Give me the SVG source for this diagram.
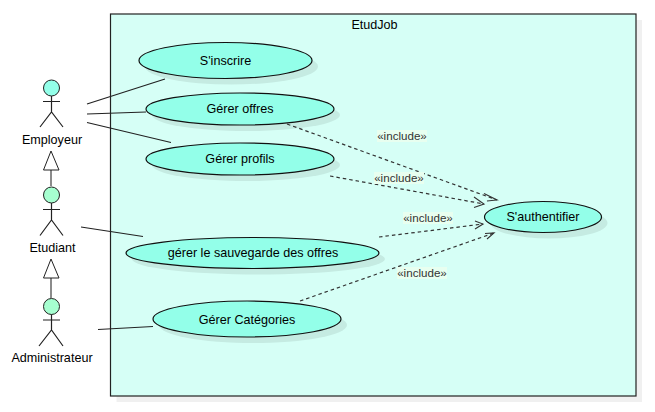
<svg xmlns="http://www.w3.org/2000/svg" width="655" height="412" viewBox="0 0 655 412">
<style>
text{font-family:"Liberation Sans",Arial,sans-serif;font-size:12.600px;text-anchor:middle;fill:#000}
.uc{fill:#93ffe9;stroke:#111;stroke-width:1.2}
.sh{fill:#000;opacity:.08}
.a{fill:none;stroke:#222;stroke-width:1.2}
.l{fill:none;stroke:#222;stroke-width:1.2}
.d{fill:none;stroke:#333;stroke-width:1.2;stroke-dasharray:3.5 3}
.o{fill:none;stroke:#333;stroke-width:1.1}
.lb{fill:#e8fff0}
text.inc{fill:#333;font-size:11.600px}
</style>
<g id="system">
<rect x="116.500" y="20" width="525.500" height="382" fill="#000" opacity=".06"/>
<rect x="110.500" y="14" width="525.500" height="382" fill="#d6fff6" stroke="#222" stroke-width="1.2"/>
<text x="374.500" y="29">EtudJob</text>
</g>
<g id="connectors">
<path class="l" d="M87 104L165 79M87 114L146 112M87 122.500L171 142.500M81 227L143 236.500M98 329.500L153 326.500"/>
<path d="M51 186V170M51 298V278" fill="none" stroke="#666" stroke-width="1.500"/>
<path d="M51 151L43.500 170H59Z" fill="#fff" stroke="#222" stroke-width="1"/>
<path d="M51 259L43.500 278H59Z" fill="#fff" stroke="#222" stroke-width="1"/>
<path class="d" d="M287 124L497 200"/>
<path class="o" d="M484 193.500L497 200L487 201"/>
<path class="d" d="M330 176L484 204"/>
<path class="o" d="M474 197L484 204L474 207.500"/>
<path class="d" d="M379 237L483 224"/>
<path class="o" d="M475 221L483 224L475 229"/>
<path class="d" d="M300 301L494 233"/>
<path class="o" d="M485 233.500L494 233L487 239"/>
<rect class="lb" x="377" y="130" width="50" height="12"/>
<rect class="lb" x="374" y="172" width="50" height="12"/>
<rect class="lb" x="403" y="212" width="50" height="12"/>
<rect class="lb" x="397" y="267" width="50" height="12"/>
<text class="inc" x="402" y="140">«include»</text>
<text class="inc" x="399" y="182">«include»</text>
<text class="inc" x="428" y="222">«include»</text>
<text class="inc" x="422" y="277">«include»</text>
</g>
<g id="uc-inscrire">
<ellipse class="sh" cx="231.500" cy="66.500" rx="86.500" ry="18"/>
<ellipse class="uc" cx="225.500" cy="60.500" rx="86.500" ry="18"/>
<text x="225.500" y="64.500">S'inscrire</text>
</g>
<g id="uc-offres">
<ellipse class="sh" cx="246" cy="115" rx="94" ry="16"/>
<ellipse class="uc" cx="240" cy="109" rx="94" ry="16"/>
<text x="240" y="113">Gérer offres</text>
</g>
<g id="uc-profils">
<ellipse class="sh" cx="246" cy="165" rx="94" ry="16"/>
<ellipse class="uc" cx="240" cy="159" rx="94" ry="16"/>
<text x="240" y="163">Gérer profils</text>
</g>
<g id="uc-sauvegarde">
<ellipse class="sh" cx="258.500" cy="259" rx="126.500" ry="15.500"/>
<ellipse class="uc" cx="252.500" cy="253" rx="126.500" ry="15.500"/>
<text x="253" y="257">gérer le sauvegarde des offres</text>
</g>
<g id="uc-categories">
<ellipse class="sh" cx="253" cy="325" rx="94" ry="18"/>
<ellipse class="uc" cx="247" cy="319" rx="94" ry="18"/>
<text x="247" y="324">Gérer Catégories</text>
</g>
<g id="uc-auth">
<ellipse class="sh" cx="549" cy="223" rx="58.500" ry="15.500"/>
<ellipse class="uc" cx="543" cy="217" rx="58.500" ry="15.500"/>
<text x="543" y="221">S'authentifier</text>
</g>
<g id="actor-employeur">
<circle cx="51.500" cy="88" r="8" fill="#93ffe9" stroke="#222" stroke-width="1"/>
<path class="a" d="M51.500 96V112M43 101.500H60M40 127L51.500 112L63 127"/>
<text x="52" y="144">Employeur</text>
</g>
<g id="actor-etudiant">
<circle cx="51.500" cy="195" r="8" fill="#a6ffd0" stroke="#222" stroke-width="1"/>
<path class="a" d="M51.500 203V220M43 209.500H60M40 235.500L51.500 220L63 235.500"/>
<text x="52.500" y="252">Etudiant</text>
</g>
<g id="actor-administrateur">
<circle cx="51.500" cy="306.500" r="8" fill="#a6ffd0" stroke="#222" stroke-width="1"/>
<path class="a" d="M51.500 314.500V330M43 320H60M39 346L51.500 330L63 346"/>
<text x="52" y="362">Administrateur</text>
</g>
</svg>
